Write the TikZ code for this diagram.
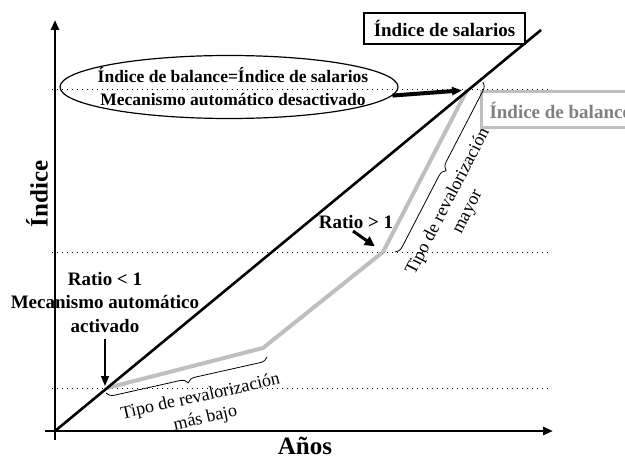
\documentclass[tikz,border=0pt]{standalone}
\usepackage{fontspec}
\setmainfont{Liberation Serif}
\usetikzlibrary{arrows.meta,shapes.geometric,decorations.pathreplacing,positioning}

\begin{document}
\begin{tikzpicture}[x=0.5pt, y=0.5pt,
        lbl/.style={font=\fontsize{9.5}{11.75}\selectfont\bfseries, align=center, inner sep=0pt},
        axlbl/.style={font=\fontsize{12.5}{14}\selectfont\bfseries, inner sep=0pt},
        bracelbl/.style={font=\fontsize{9}{11}\selectfont, align=center, inner sep=0pt},
        guide/.style={dotted, line width=0.5pt},
        salary/.style={line width=1.3pt},
        balance/.style={line width=2pt, black!25},
        curly/.style={decorate, decoration={brace, mirror, amplitude=4pt}, line width=0.4pt},
        pointer/.style={-{Triangle[length=5pt, width=4pt]}},
    ]
        \useasboundingbox (0,0) rectangle (625,461);

        % COORDINATES
        % -----------------
        \coordinate (origin)   at (55,30);
        \coordinate (y_top)    at (55,441);
        \coordinate (y_foot)   at (55,21);
        \coordinate (x_start)  at (45,30);
        \coordinate (x_end)    at (553,30);
        \coordinate (sal_end)  at (541,431);

        \coordinate (low_meet) at (107,73);
        \coordinate (bend_a)   at (263,113);
        \coordinate (bend_b)   at (383,209);
        \coordinate (top_meet) at (467,371);

        \coordinate (low_a) at (106,68);
        \coordinate (low_b) at (267,104);
        \coordinate (up_a)  at (395,209);
        \coordinate (up_b)  at (483,379);

        % GUIDES
        % -----------------
        \foreach \lvl in {73,209,371}
            \draw[guide] (52,\lvl) -- (548,\lvl);

        % CURVES
        % -----------------
        \draw[balance] (low_meet) -- (bend_a) -- (bend_b) -- (top_meet);
        \draw[salary] (origin) -- (sal_end);

        % AXES
        \draw[line width=1.3pt, pointer] (y_foot) -- (y_top);
        \draw[line width=1.3pt, pointer] (x_start) -- (x_end);

        % NODES
        % -----------------
        \node[draw, line width=1pt, fill=white, lbl, minimum width=80.5pt, minimum height=15.5pt] (sal_box) at (444.5,432.5) {Índice de salarios};
        \node[draw=black!25, line width=1.5pt, fill=white, lbl, text=black!50, anchor=west, inner xsep=4pt, minimum height=18pt] (bal_box) at (480,351) {Índice de balance};

        \node[draw, ellipse, line width=0.6pt, minimum width=169pt, minimum height=31.5pt, inner sep=0pt] (eq_ellipse) at (229,374) {};
        \node[lbl, font=\fontsize{8.75}{11.5}\selectfont\bfseries] (eq_text) at (233,374) {Índice de balance=Índice de salarios\\Mecanismo automático desactivado};

        \node[lbl] (ratio_gt) at (356,239) {Ratio > 1};
        \node[lbl] (ratio_lt) at (105,159) {Ratio < 1\\Mecanismo automático\\activado};

        \node[axlbl, rotate=90] (y_label) at (37,267) {Índice};
        \node[axlbl] (x_label) at (305,15) {Años};

        \node[bracelbl, rotate=12.6] (low_label) at (203,53) {Tipo de revalorización\\más bajo};
        \node[bracelbl, rotate=62.6] (up_label) at (458,254) {Tipo de revalorización\\mayor};

        % EDGES
        % -----------------
        \draw[line width=2pt, pointer, shorten >=2.5pt] (eq_ellipse.-3) -- (top_meet);
        \draw[line width=1.5pt, -{Triangle[length=5pt, width=5pt]}, shorten >=5pt] ([xshift=-1.5pt, yshift=-1pt]ratio_gt.south) -- (bend_b);
        \draw[line width=0.8pt, pointer, shorten >=1pt] ([yshift=-3pt]ratio_lt.south) -- (ratio_lt.south |- low_meet);

        % BRACES
        \draw[curly] (low_a) -- (low_b);
        \draw[curly] (up_a) -- (up_b);

\end{tikzpicture}
\end{document}
